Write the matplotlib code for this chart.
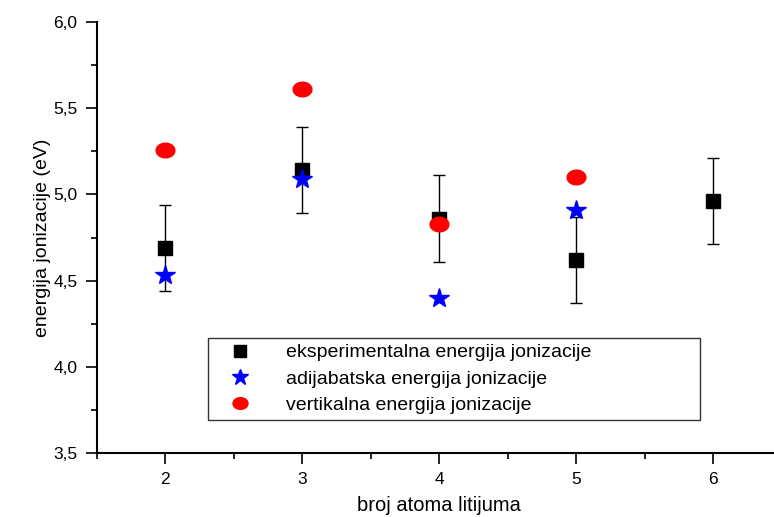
import numpy as np
import matplotlib
matplotlib.use("Agg")
import matplotlib.pyplot as plt
from matplotlib.path import Path
from matplotlib.ticker import FuncFormatter, MultipleLocator

# number of lithium atoms
n_exp = [2, 3, 4, 5, 6]
e_exp = [4.69, 5.14, 4.86, 4.62, 4.96]
err_exp = [0.25, 0.25, 0.25, 0.25, 0.25]

n_adi = [2, 3, 4, 5]
e_adi = [4.53, 5.09, 4.40, 4.91]

n_vert = [2, 3, 4, 5]
e_vert = [5.26, 5.61, 4.83, 5.10]

labels = ["eksperimentalna energija jonizacije",
          "adijabatska energija jonizacije",
          "vertikalna energija jonizacije"]

plt.rcParams['font.family'] = ['Liberation Sans', 'DejaVu Sans']

# slightly flattened circle for the red points
t = np.linspace(0, 2 * np.pi, 60)
ellipse = Path(np.column_stack([np.cos(t), 0.78 * np.sin(t)]), closed=True)

fig = plt.figure(figsize=(7.74, 5.17), dpi=100)
ax = fig.add_axes([0.1253, 0.1238, 0.8844, 0.8336])

ax.errorbar(n_exp, e_exp, yerr=err_exp, fmt='none', ecolor='black',
            elinewidth=1, capsize=4.3, capthick=1, zorder=1)
h1, = ax.plot(n_exp, e_exp, 's', color='black', ms=10, linestyle='none',
              label=labels[0], zorder=2)
h2, = ax.plot(n_adi, e_adi, '*', color='blue', ms=15, mec='blue',
              label=labels[1], zorder=3, linestyle='none')
h3, = ax.plot(n_vert, e_vert, marker=ellipse, color='red', ms=13.5,
              label=labels[2], zorder=4, linestyle='none')

ax.set_xlim(1.5, 6.5)
ax.set_ylim(3.5, 6.0)
ax.xaxis.set_major_locator(MultipleLocator(1))
ax.xaxis.set_minor_locator(MultipleLocator(0.5))
ax.yaxis.set_major_locator(MultipleLocator(0.5))
ax.yaxis.set_minor_locator(MultipleLocator(0.25))
ax.yaxis.set_major_formatter(FuncFormatter(lambda v, p: f"{v:.1f}".replace('.', ',')))
ax.xaxis.set_major_formatter(FuncFormatter(lambda v, p: f"{v:.0f}"))

for s in ['top', 'right']:
    ax.spines[s].set_visible(False)
for s in ['left', 'bottom']:
    ax.spines[s].set_linewidth(1.5)

ax.tick_params(which='major', direction='out', length=8, width=1.2,
               labelsize=12.5, pad=6)
ax.tick_params(which='minor', direction='out', length=4, width=1.2)

ax.set_xlabel("broj atoma litijuma", fontsize=14.5, labelpad=6)
ax.set_ylabel("energija jonizacije (eV)", fontsize=14, labelpad=2)

x0 = (208 - 97) / (781.5 - 97)
x1 = (700 - 97) / (781.5 - 97)
y0 = (453 - 420) / 431
y1 = (453 - 336) / 431
leg = ax.legend([h1, h2, h3], labels, loc='lower left', mode='expand',
                bbox_to_anchor=(x0, y0, x1 - x0, y1 - y0),
                frameon=True, fancybox=False, edgecolor='black',
                fontsize=14, handletextpad=1.0, borderpad=0.3,
                labelspacing=0.45, borderaxespad=0, handlelength=2.7)
leg.get_frame().set_linewidth(1.0)
for h in leg.legend_handles:
    h.set_markersize(h.get_markersize() * 0.8)

fig.savefig("out.png", dpi=100)
